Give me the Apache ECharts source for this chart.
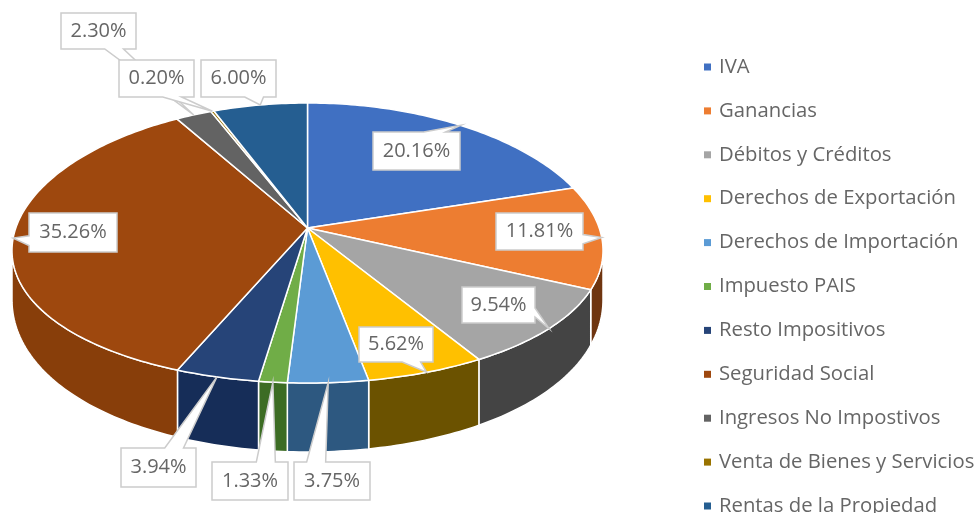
<!DOCTYPE html>
<html>
<head>
<meta charset="utf-8">
<title>Recaudación</title>
<script src="https://cdn.jsdelivr.net/npm/echarts@6/dist/echarts.min.js"></script>
<style>
  html, body { margin: 0; padding: 0; background: #fff; }
  #chart { width: 979px; height: 513px; }
</style>
</head>
<body>
<div id="chart"></div>
<script>
const categories = ['IVA', 'Ganancias', 'Débitos y Créditos', 'Derechos de Exportación', 'Derechos de Importación',
  'Impuesto PAIS', 'Resto Impositivos', 'Seguridad Social', 'Ingresos No Impostivos', 'Venta de Bienes y Servicios', 'Rentas de la Propiedad'];
const shares = [20.16, 11.81, 9.54, 5.62, 3.75, 1.33, 3.94, 35.26, 2.30, 0.20, 6.00];

const topColors = ['#4070c2', '#ed7d31', '#a5a5a5', '#ffc000', '#5b9bd5', '#70ad47', '#264478', '#9e480e', '#636363', '#997300', '#255e91'];
const wallColors = ['#2a4a85', '#6f3510', '#444444', '#6b5200', '#2d5880', '#3c6c24', '#162d58', '#883e0a', '#3c3c3c', '#5c4500', '#163a5a'];

// callout boxes: left, top, width, height
const calloutBoxes = [
  [373, 132, 87, 38], [496, 213, 87, 37], [462, 287, 73, 36], [359, 327, 74, 35], [294, 462, 76, 38], [212, 462, 76, 38],
  [121, 448, 75, 39], [29, 213, 88, 39], [61, 13, 75, 36], [119, 60, 75, 37], [201, 60, 75, 37]
];

// pie projection
const cx = 307.5, cy = 228, rx = 291.7, ry = 138.4, tiltX = 0.16, tiltY = 0.107;
const depthSide = 45.5, depthFront = 23.5;
const total = shares.reduce((a, b) => a + b, 0);

function rim(deg, lower) {
  const t = deg * Math.PI / 180, c = Math.cos(t);
  const drop = lower ? depthSide - depthFront * c : 0;
  return [cx + rx * Math.sin(t) / (1 + tiltX * c), cy - ry * c / (1 + tiltY * c) + drop];
}
function sliceAngles(i) {
  let before = 0;
  for (let k = 0; k < i; k++) before += shares[k];
  return [before / total * 360, (before + shares[i]) / total * 360];
}
function arc(a, b, lower) {
  const pts = [];
  const n = Math.max(2, Math.ceil(b - a));
  for (let k = 0; k <= n; k++) pts.push(rim(a + (b - a) * k / n, lower));
  return pts;
}

function renderTop(i) {
  return function () {
    const [a, b] = sliceAngles(i);
    return {
      type: 'polygon',
      shape: { points: [[cx, cy]].concat(arc(a, b)) },
      style: { fill: topColors[i], stroke: '#fff', lineWidth: 1.5, lineJoin: 'round' }
    };
  };
}

// side wall only where the rim faces the viewer
const wallFrom = Math.acos(-tiltX) * 180 / Math.PI;
const wallTo = 360 - wallFrom;
function renderWall(params) {
  const i = params.dataIndex;
  const [a0, b0] = sliceAngles(i);
  const a = Math.max(a0, wallFrom), b = Math.min(b0, wallTo);
  if (b <= a) return null;
  return {
    type: 'polygon',
    shape: { points: arc(a, b).concat(arc(a, b, true).reverse()) },
    style: { fill: wallColors[i], stroke: '#fff', lineWidth: 1.5 }
  };
}

// rectangular callout with a wedge pointing at the middle of the slice rim
function calloutPoints(box, tip) {
  const [x, y, w, h] = box;
  const dx = (tip[0] - (x + w / 2)) / w, dy = (tip[1] - (y + h / 2)) / h;
  const f0 = 7 / 12, f1 = 10 / 12, g0 = 2 / 12, g1 = 5 / 12;
  const pts = [[x, y], [x + w, y], [x + w, y + h], [x, y + h]];
  if (Math.abs(dx) > Math.abs(dy)) {
    const p = dy > 0 ? [y + h * f0, y + h * f1] : [y + h * g0, y + h * g1];
    if (dx > 0) pts.splice(2, 0, [x + w, p[0]], tip, [x + w, p[1]]);
    else pts.push([x, p[1]], tip, [x, p[0]]);
  } else {
    const p = dx > 0 ? [x + w * f0, x + w * f1] : [x + w * g0, x + w * g1];
    if (dy > 0) pts.splice(3, 0, [p[1], y + h], tip, [p[0], y + h]);
    else pts.splice(1, 0, [p[0], y], tip, [p[1], y]);
  }
  return pts;
}
function renderCallout(params, api) {
  const i = params.dataIndex;
  const [a, b] = sliceAngles(i);
  const box = calloutBoxes[i];
  return {
    type: 'group',
    children: [{
      type: 'polygon',
      shape: { points: calloutPoints(box, rim((a + b) / 2)) },
      style: { fill: '#fff', stroke: '#cccccc', lineWidth: 1.5 }
    }, {
      type: 'text',
      style: {
        x: box[0] + box[2] / 2, y: box[1] + box[3] / 2,
        text: api.value(0).toFixed(2) + '%',
        fill: '#666666', font: '20px "Open Sans"', align: 'center', verticalAlign: 'middle'
      }
    }]
  };
}

const series = [{
  id: 'walls', type: 'custom', coordinateSystem: 'none', z: 1, silent: true,
  renderItem: renderWall, data: shares.map(v => [v])
}];
categories.forEach((name, i) => {
  series.push({
    name: name, type: 'custom', coordinateSystem: 'none', z: 2, silent: true,
    itemStyle: { color: topColors[i] },
    renderItem: renderTop(i), data: [[shares[i]]]
  });
});
series.push({
  id: 'callouts', type: 'custom', coordinateSystem: 'none', z: 3, silent: true,
  renderItem: renderCallout, data: shares.map(v => [v])
});

const chart = echarts.init(document.getElementById('chart'), null, { renderer: 'canvas' });
chart.setOption({
  animation: false,
  backgroundColor: '#fff',
  legend: {
    data: categories,
    orient: 'vertical',
    left: 704,
    top: 55,
    height: 600,
    padding: 0,
    icon: 'rect',
    itemWidth: 7,
    itemHeight: 7,
    itemGap: 19.9,
    selectedMode: false,
    textStyle: { color: '#666666', fontFamily: 'Open Sans', fontSize: 20.3, lineHeight: 24, padding: [0, 0, 0, 3] }
  },
  series: series
});
</script>
</body>
</html>
